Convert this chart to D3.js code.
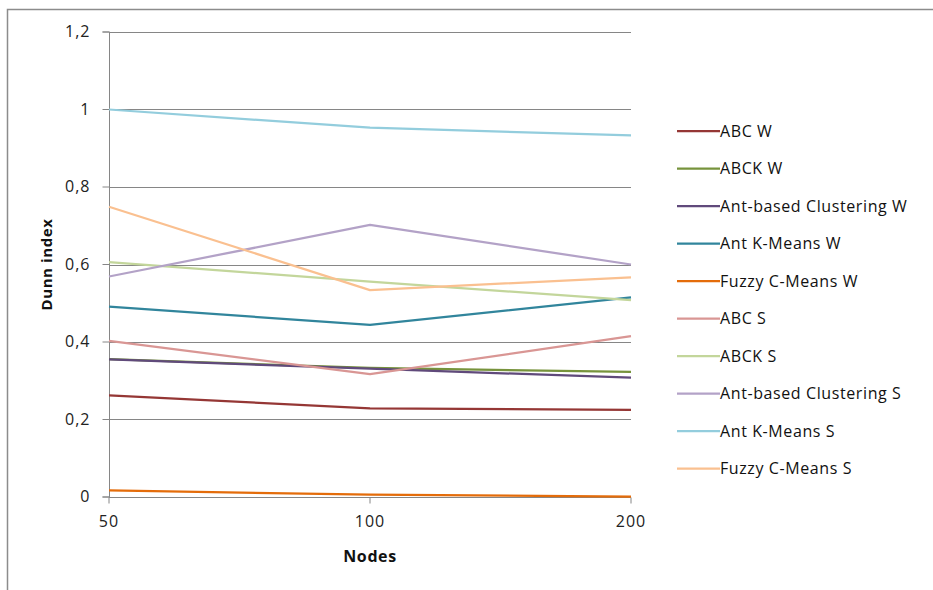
<!DOCTYPE html>
<html>
<head>
<meta charset="utf-8">
<script src="https://cdn.jsdelivr.net/npm/d3@7"></script>
<style>
	html, body { margin: 0; padding: 0; background: #fff; }
	svg { display: block; font-family: 'Open Sans', sans-serif; }
</style>
</head>
<body>
<div id="chart"></div>
<script>
// categories on the x axis
const nodes = ['50', '100', '200'];
const yTicks = [0, 0.2, 0.4, 0.6, 0.8, 1, 1.2];

// series values
const abcW = [0.262, 0.229, 0.225];
const abckW = [0.356, 0.333, 0.323];
const antClusterW = [0.355, 0.331, 0.308];
const antKMeansW = [0.491, 0.444, 0.515];
const fuzzyW = [0.017, 0.006, 0.001];
const abcS = [0.403, 0.317, 0.415];
const abckS = [0.606, 0.556, 0.508];
const antClusterS = [0.569, 0.702, 0.600];
const antKMeansS = [1.0, 0.953, 0.933];
const fuzzyS = [0.749, 0.534, 0.567];

const seriesNames = [
	'ABC W', 'ABCK W', 'Ant-based Clustering W', 'Ant K-Means W', 'Fuzzy C-Means W',
	'ABC S', 'ABCK S', 'Ant-based Clustering S', 'Ant K-Means S', 'Fuzzy C-Means S',
];
const seriesValues = [abcW, abckW, antClusterW, antKMeansW, fuzzyW, abcS, abckS, antClusterS, antKMeansS, fuzzyS];
const seriesColors = [
	'#953735', '#77933C', '#604A7B', '#31859C', '#E46C0A',
	'#D99694', '#C3D69B', '#B3A2C7', '#93CDDD', '#FAC090',
];

const series = seriesNames.map((name, i) => ({ name, values: seriesValues[i], color: seriesColors[i] }));

const W = 933;
const H = 590;
const margin = { top: 32, left: 109, right: 302, bottom: 93 };

const svg = d3.select('#chart').append('svg').attr('width', W).attr('height', H);

// outer chart frame (only top and left visible)
svg.append('rect')
	.attr('x', 7.5).attr('y', 9.5)
	.attr('width', W + 20).attr('height', H + 20)
	.attr('fill', 'none').attr('stroke', '#8c8c8c').attr('stroke-width', 1.5);

const x = d3.scalePoint().domain(nodes).range([ margin.left, W - margin.right ]);
const y = d3.scaleLinear().domain([ 0, 1.2 ]).range([ H - margin.bottom, margin.top ]);

const comma = d3.formatLocale({ decimal: ',', thousands: '.', grouping: [3], currency: ['', ''] }).format('~g');

// gridlines
svg.append('g')
	.selectAll('line')
	.data(yTicks.slice(1))
	.enter()
	.append('line')
	.attr('x1', margin.left).attr('x2', W - margin.right)
	.attr('y1', (d) => Math.round(y(d)) + 0.5).attr('y2', (d) => Math.round(y(d)) + 0.5)
	.attr('stroke', '#868686');

// y axis
const yAxis = svg.append('g')
	.attr('transform', `translate(${margin.left + 0.5},0)`)
	.call(d3.axisLeft(y).tickValues(yTicks).tickSize(7).tickPadding(12).tickFormat(comma).offset(0));
yAxis.select('.domain').attr('stroke', '#868686');
yAxis.selectAll('.tick line').attr('stroke', '#868686');
yAxis.selectAll('.tick text')
	.attr('font-size', 16).attr('letter-spacing', 1).attr('fill', '#222')
	.attr('font-family', 'Open Sans, sans-serif');

// x axis
const xAxis = svg.append('g')
	.attr('transform', `translate(0,${Math.round(y(0)) + 0.5})`)
	.call(d3.axisBottom(x).tickSizeInner(6).tickSizeOuter(0).tickPadding(12).offset(0));
xAxis.select('.domain').attr('stroke', '#868686');
xAxis.selectAll('.tick line').attr('stroke', '#868686');
xAxis.selectAll('.tick text')
	.attr('font-size', 16).attr('letter-spacing', 1).attr('fill', '#222')
	.attr('font-family', 'Open Sans, sans-serif');

// axis titles
svg.append('text')
	.attr('transform', `translate(52,${(y(0) + y(1.2)) / 2}) rotate(-90)`)
	.attr('text-anchor', 'middle')
	.attr('font-size', 15).attr('letter-spacing', 0.6).attr('font-weight', 'bold').attr('fill', '#111')
	.text('Dunn index');
svg.append('text')
	.attr('x', x('100')).attr('y', 562)
	.attr('text-anchor', 'middle')
	.attr('font-size', 16).attr('letter-spacing', 0.6).attr('font-weight', 'bold').attr('fill', '#111')
	.text('Nodes');

// series lines
const line = d3.line().x((d, i) => x(nodes[i])).y((d) => y(d));
svg.append('g')
	.selectAll('path')
	.data(series)
	.enter()
	.append('path')
	.attr('d', (d) => line(d.values))
	.attr('fill', 'none')
	.attr('stroke', (d) => d.color)
	.attr('stroke-width', 2.25)
	.attr('stroke-linejoin', 'round');

// legend
const legend = svg.append('g').attr('transform', 'translate(677,131)');
const rows = legend.selectAll('g')
	.data(series)
	.enter()
	.append('g')
	.attr('transform', (d, i) => `translate(0,${i * 37.5})`);
rows.append('line')
	.attr('x1', 0).attr('x2', 43)
	.attr('stroke', (d) => d.color).attr('stroke-width', 2.25);
rows.append('text')
	.attr('x', 43).attr('dy', '0.35em')
	.attr('font-size', 16).attr('letter-spacing', 0.6).attr('fill', '#111')
	.text((d) => d.name);
</script>
</body>
</html>
